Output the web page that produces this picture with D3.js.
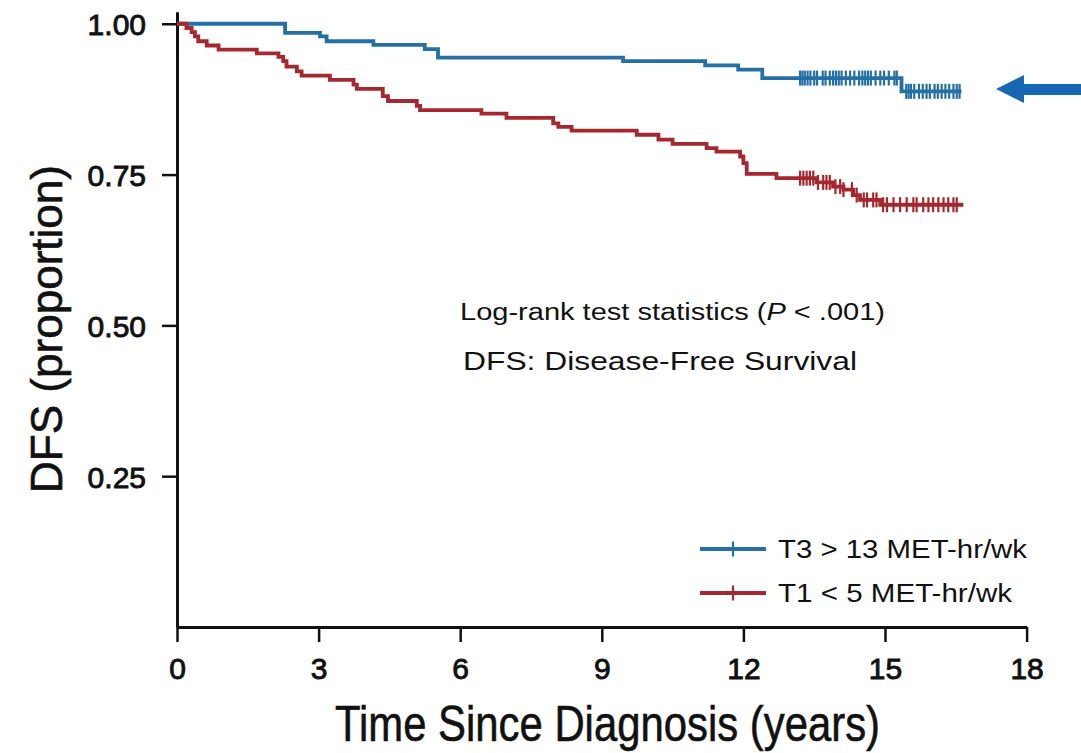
<!DOCTYPE html>
<html>
<head>
<meta charset="utf-8">
<script src="https://cdn.jsdelivr.net/npm/d3@7"></script>
<style>
	body { margin: 0; background: #fff; }
	svg { display: block; }
</style>
</head>
<body>
<div class="km-plot"></div>
<script>
// kaplan-meier DFS curves
const groups = ['T3 > 13 MET-hr/wk', 'T1 < 5 MET-hr/wk']
const colors = ['#2470a5', '#a5272f']

// [time in years, survival after the drop]
const stepsT3 = [[0, 1], [2.29, 0.985], [3.03, 0.979], [3.17, 0.971], [4.16, 0.965], [5.25, 0.958],
	[5.53, 0.944], [9.45, 0.938], [11.19, 0.931], [11.89, 0.924], [12.4, 0.910], [15.35, 0.888]]
const stepsT1 = [[0, 1], [0.2, 0.993], [0.31, 0.986], [0.38, 0.979], [0.45, 0.971], [0.63, 0.964],
	[0.88, 0.957], [1.69, 0.951], [2.15, 0.945], [2.25, 0.938], [2.32, 0.929], [2.54, 0.921],
	[2.64, 0.914], [3.24, 0.907], [3.74, 0.899], [3.81, 0.892], [4.36, 0.880], [4.47, 0.872],
	[5.08, 0.864], [5.15, 0.857], [6.45, 0.851], [6.98, 0.844], [7.97, 0.835], [8.08, 0.829],
	[8.36, 0.823], [9.74, 0.816], [10.2, 0.808], [10.5, 0.801], [11.22, 0.794], [11.43, 0.788],
	[11.93, 0.780], [12.0, 0.769], [12.07, 0.751], [12.7, 0.744], [13.55, 0.737], [13.9, 0.730],
	[14.12, 0.725], [14.33, 0.716], [14.47, 0.708], [14.9, 0.700]]
const endT3 = 16.62
const endT1 = 16.66

// censored observations (years)
const censorT3 = [13.2, 13.25, 13.3, 13.36, 13.42, 13.5, 13.56, 13.68, 13.74, 13.83, 13.9, 13.96,
	14.02, 14.08, 14.17, 14.26, 14.35, 14.45, 14.52, 14.58, 14.64, 14.7, 14.8, 14.9, 14.98, 15.08,
	15.2, 15.25, 15.45, 15.5, 15.55, 15.62, 15.72, 15.8, 15.88, 15.95, 16.05, 16.12, 16.2, 16.28,
	16.36, 16.45, 16.52, 16.58]
const censorT1 = [13.2, 13.27, 13.34, 13.41, 13.48, 13.58, 13.69, 13.76, 13.83, 13.95, 14.05, 14.12,
	14.3, 14.4, 14.55, 14.62, 14.75, 14.82, 14.96, 15.04, 15.18, 15.32, 15.46, 15.6, 15.67, 15.81,
	15.92, 16.02, 16.13, 16.24, 16.34, 16.45, 16.52]

const xTicks = [0, 3, 6, 9, 12, 15, 18]
const yTicks = [0.25, 0.50, 0.75, 1.00]

const width = 1081
const height = 753

const svg = d3.select('.km-plot')
	.append('svg')
	.attr('width', width)
	.attr('height', height)
	.attr('viewBox', [0, 0, width, height])

const x = d3.scaleLinear().domain([0, 18]).range([177, 1026.6])
const y = d3.scaleLinear().domain([0, 1.02]).range([627, 11.7])

// axes
const xAxis = svg.append('g')
	.attr('transform', `translate(0,${y(0)})`)
	.call(d3.axisBottom(x).tickValues(xTicks).tickSize(15).tickSizeOuter(0).tickPadding(16))
const yAxis = svg.append('g')
	.attr('transform', `translate(${x(0)},0)`)
	.call(d3.axisLeft(y).tickValues(yTicks).tickFormat(d3.format('.2f')).tickSize(15).tickSizeOuter(0).tickPadding(16))

svg.selectAll('.domain').attr('stroke', '#111').attr('stroke-width', 3)
svg.selectAll('.tick line').attr('stroke', '#111').attr('stroke-width', 2.5)
svg.selectAll('.tick text')
	.attr('font-family', '"Liberation Sans", Arial, sans-serif')
	.attr('font-size', '30px')
	.attr('fill', '#111')
	.attr('stroke', '#111')
	.attr('stroke-width', 0.9)
yAxis.selectAll('.tick text').attr('dy', '0.36em')

// step curves
const line = d3.line()
	.x(d => x(d[0]))
	.y(d => y(d[1]))
	.curve(d3.curveStepAfter)

const survivalAt = (steps, t) => {
	let s = steps[0][1]
	steps.forEach(d => { if (d[0] <= t) s = d[1] })
	return s
}

const series = [
	{ steps: stepsT3, end: endT3, censor: censorT3, color: colors[0] },
	{ steps: stepsT1, end: endT1, censor: censorT1, color: colors[1] },
]

series.forEach(s => {
	const pts = s.steps.concat([[s.end, s.steps[s.steps.length - 1][1]]])
	svg.append('path')
		.datum(pts)
		.attr('d', line)
		.attr('fill', 'none')
		.attr('stroke', s.color)
		.attr('stroke-width', 3.8)

	// censor marks
	svg.selectAll(null)
		.data(s.censor)
		.enter()
		.append('line')
		.attr('x1', d => x(d))
		.attr('x2', d => x(d))
		.attr('y1', d => y(survivalAt(s.steps, d)) - 7.5)
		.attr('y2', d => y(survivalAt(s.steps, d)) + 7.5)
		.attr('stroke', s.color)
		.attr('stroke-width', 2.2)
})

// annotations
const note = svg.append('text')
	.attr('x', 460)
	.attr('y', 320)
	.attr('font-family', '"Liberation Sans", Arial, sans-serif')
	.attr('font-size', '23px')
	.attr('fill', '#111')
	.attr('textLength', 425)
	.attr('lengthAdjust', 'spacingAndGlyphs')
note.append('tspan').text('Log-rank test statistics (')
note.append('tspan').attr('font-style', 'italic').text('P')
note.append('tspan').text(' < .001)')

svg.append('text')
	.attr('x', 463)
	.attr('y', 370)
	.attr('font-family', '"Liberation Sans", Arial, sans-serif')
	.attr('font-size', '26px')
	.attr('fill', '#111')
	.attr('textLength', 394)
	.attr('lengthAdjust', 'spacingAndGlyphs')
	.text('DFS: Disease-Free Survival')

// legend
const legend = svg.selectAll('g.legend')
	.data(groups)
	.enter()
	.append('g')
	.attr('class', 'legend')
	.attr('transform', (d, i) => `translate(700,${549 + i * 44})`)
legend.append('line')
	.attr('x1', 0).attr('x2', 66)
	.attr('stroke', (d, i) => colors[i])
	.attr('stroke-width', 3.8)
legend.append('line')
	.attr('x1', 33).attr('x2', 33)
	.attr('y1', -7.5).attr('y2', 7.5)
	.attr('stroke', (d, i) => colors[i])
	.attr('stroke-width', 2.2)
legend.append('text')
	.attr('x', 78)
	.attr('dy', '0.36em')
	.attr('font-family', '"Liberation Sans", Arial, sans-serif')
	.attr('font-size', '25px')
	.attr('fill', '#111')
	.attr('textLength', (d, i) => i === 0 ? 249 : 234)
	.attr('lengthAdjust', 'spacingAndGlyphs')
	.text(d => d)

// axis titles, squeezed to look like the condensed face of the original
svg.append('text')
	.attr('x', 335)
	.attr('y', 741)
	.attr('font-family', '"Liberation Sans", Arial, sans-serif')
	.attr('font-size', '50px')
	.attr('fill', '#111')
	.attr('stroke', '#111')
	.attr('stroke-width', 0.6)
	.attr('textLength', 545)
	.attr('lengthAdjust', 'spacingAndGlyphs')
	.text('Time Since Diagnosis (years)')

svg.append('text')
	.attr('transform', 'translate(62,493) rotate(-90)')
	.attr('font-family', '"Liberation Sans", Arial, sans-serif')
	.attr('font-size', '45px')
	.attr('fill', '#111')
	.attr('stroke', '#111')
	.attr('stroke-width', 0.6)
	.attr('textLength', 328)
	.attr('lengthAdjust', 'spacingAndGlyphs')
	.text('DFS (proportion)')

// arrow pointing at the T3 plateau
svg.append('path')
	.attr('d', 'M996,89 L1024,75 L1024,84 L1081,84 L1081,95 L1024,95 L1024,103 Z')
	.attr('fill', '#1767b3')
</script>
</body>
</html>
